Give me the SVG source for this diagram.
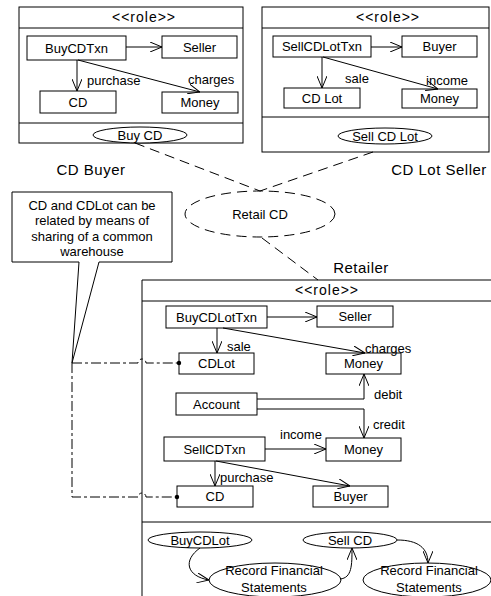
<svg xmlns="http://www.w3.org/2000/svg" width="491" height="596" viewBox="0 0 491 596">
<style>
.b{fill:#fff;stroke:#000;stroke-width:1}
.n{fill:none;stroke:#000;stroke-width:1}
.t{font-family:"Liberation Sans",Arial,sans-serif;font-size:13px;fill:#000;text-anchor:middle}
.l{font-family:"Liberation Sans",Arial,sans-serif;font-size:13px;fill:#000}
.r{font-family:"Liberation Sans",Arial,sans-serif;font-size:14px;fill:#000;text-anchor:middle;letter-spacing:1px}
.lab{font-family:"Liberation Sans",Arial,sans-serif;font-size:15px;fill:#000;text-anchor:middle;letter-spacing:0.5px}
.dash{fill:none;stroke:#000;stroke-width:1;stroke-dasharray:10,6}
.dd{fill:none;stroke:#000;stroke-width:1;stroke-dasharray:10,3,3,3}
.a{fill:none;stroke:#000;stroke-width:1;marker-end:url(#open)}
</style>
<defs>
<marker id="open" viewBox="0 0 12 10" refX="12" refY="5" markerWidth="12" markerHeight="10" markerUnits="userSpaceOnUse" orient="auto">
<path d="M0,0 L12,5 L0,10" fill="none" stroke="#000" stroke-width="1"/>
</marker>
</defs>
<rect width="491" height="596" fill="#fff"/>

<g id="cdbuyer">
<rect class="b" x="19" y="7" width="224" height="136"/>
<line class="n" x1="19" y1="28" x2="243" y2="28"/>
<line class="n" x1="19" y1="123" x2="243" y2="123"/>
<text class="r" x="144" y="22">&lt;&lt;role&gt;&gt;</text>
<g id="buyer-BuyCDTxn"><rect class="b" x="27" y="36" width="99" height="24"/><text class="t" x="76.5" y="52.5">BuyCDTxn</text></g>
<g id="buyer-Seller"><rect class="b" x="162" y="36" width="75" height="22"/><text class="t" x="199.5" y="51.5">Seller</text></g>
<g id="buyer-CD"><rect class="b" x="40" y="91" width="76" height="22"/><text class="t" x="78" y="106.5">CD</text></g>
<g id="buyer-Money"><rect class="b" x="162" y="92" width="76" height="21"/><text class="t" x="200" y="107">Money</text></g>
<g id="buyer-BuyCD"><ellipse class="b" cx="140" cy="135" rx="47" ry="8"/><text class="t" x="140" y="139.5">Buy CD</text></g>
<text class="lab" x="91" y="175">CD Buyer</text>
</g>

<g id="cdlotseller">
<rect class="b" x="262" y="7" width="227" height="145"/>
<line class="n" x1="262" y1="28" x2="489" y2="28"/>
<line class="n" x1="262" y1="117" x2="489" y2="117"/>
<text class="r" x="388" y="22">&lt;&lt;role&gt;&gt;</text>
<g id="seller-SellCDLotTxn"><rect class="b" x="273" y="36" width="98" height="21"/><text class="t" x="322" y="51">SellCDLotTxn</text></g>
<g id="seller-Buyer"><rect class="b" x="402" y="36" width="75" height="21"/><text class="t" x="439.5" y="51">Buyer</text></g>
<g id="seller-CDLot"><rect class="b" x="284" y="88" width="76" height="20"/><text class="t" x="322" y="102.5">CD Lot</text></g>
<g id="seller-Money"><rect class="b" x="402" y="89" width="75" height="19"/><text class="t" x="439.5" y="103">Money</text></g>
<g id="seller-SellCDLot"><ellipse class="b" cx="385" cy="136" rx="47" ry="8"/><text class="t" x="385" y="140.5">Sell CD Lot</text></g>
<text class="lab" x="439" y="175">CD Lot Seller</text>
</g>

<g id="retailcd">
<ellipse class="dash" cx="260" cy="214" rx="75" ry="23"/>
<text class="t" x="260" y="218.5">Retail CD</text>
</g>

<g id="note">
<path class="b" d="M12,192 H172 V262 H99 L72,363 L79,262 H12 Z"/>
<text class="t" x="92" y="209.5">CD and CDLot can be</text>
<text class="t" x="92" y="225">related by means of</text>
<text class="t" x="92" y="240.5">sharing of a common</text>
<text class="t" x="92" y="255.5">warehouse</text>
</g>

<g id="retailer">
<path class="n" d="M500,280 H142 V600"/>
<line class="n" x1="142" y1="301" x2="500" y2="301"/>
<line class="n" x1="142" y1="522" x2="500" y2="522"/>
<text class="r" x="327" y="295">&lt;&lt;role&gt;&gt;</text>
<text class="lab" x="361" y="273">Retailer</text>
<g id="ret-BuyCDLotTxn"><rect class="b" x="166" y="306" width="101" height="22"/><text class="t" x="216.5" y="321.5">BuyCDLotTxn</text></g>
<g id="ret-Seller"><rect class="b" x="317" y="306" width="76" height="21"/><text class="t" x="355" y="321">Seller</text></g>
<g id="ret-CDLot"><rect class="b" x="179" y="353" width="75" height="21"/><text class="t" x="216.5" y="368">CDLot</text></g>
<g id="ret-Money1"><rect class="b" x="326" y="353" width="75" height="21"/><text class="t" x="363.5" y="368">Money</text></g>
<g id="ret-Account"><rect class="b" x="176" y="393" width="81" height="22"/><text class="t" x="216.5" y="408.5">Account</text></g>
<g id="ret-SellCDTxn"><rect class="b" x="164" y="437" width="101" height="24"/><text class="t" x="214.5" y="453.5">SellCDTxn</text></g>
<g id="ret-Money2"><rect class="b" x="326" y="438" width="75" height="23"/><text class="t" x="363.5" y="454">Money</text></g>
<g id="ret-CD"><rect class="b" x="177" y="486" width="76" height="21"/><text class="t" x="215" y="501">CD</text></g>
<g id="ret-Buyer"><rect class="b" x="313" y="486" width="75" height="21"/><text class="t" x="350.5" y="501">Buyer</text></g>
<g id="ret-BuyCDLot"><ellipse class="b" cx="200" cy="540" rx="52" ry="8"/><text class="t" x="200" y="544.5">BuyCDLot</text></g>
<g id="ret-SellCD"><ellipse class="b" cx="350" cy="540" rx="47" ry="8"/><text class="t" x="350" y="544.5">Sell CD</text></g>
<g id="ret-RFS1"><ellipse class="b" cx="275" cy="580" rx="66" ry="17"/><text class="t" x="274" y="574.5">Record Financial</text><text class="t" x="274" y="591.5">Statements</text></g>
<g id="ret-RFS2"><ellipse class="b" cx="427" cy="580" rx="64" ry="17"/><text class="t" x="429" y="574.5">Record Financial</text><text class="t" x="429" y="591.5">Statements</text></g>
</g>

<g id="connectors">
<line class="a" x1="126" y1="47" x2="162" y2="47"/>
<line class="a" x1="77" y1="60" x2="77" y2="91"/>
<line class="a" x1="78" y1="60" x2="200" y2="92"/>
<text class="l" x="87" y="85">purchase</text>
<text class="l" x="188" y="84">charges</text>

<line class="a" x1="371" y1="47" x2="402" y2="47"/>
<line class="a" x1="322" y1="57" x2="322" y2="88"/>
<line class="a" x1="323" y1="57" x2="438" y2="89"/>
<text class="t" x="357" y="83">sale</text>
<text class="t" x="447" y="85">income</text>

<line class="dash" x1="135" y1="143" x2="260" y2="191"/>
<line class="dash" x1="373" y1="152" x2="260" y2="191"/>
<line class="dash" x1="262" y1="238" x2="318" y2="280"/>

<line class="a" x1="267" y1="317" x2="317" y2="317"/>
<line class="a" x1="217" y1="328" x2="217" y2="353"/>
<line class="a" x1="223" y1="328" x2="365" y2="353"/>
<text class="l" x="227" y="350.5">sale</text>
<text class="l" x="365" y="352.5">charges</text>
<path class="a" d="M257,399 H364 V374"/>
<text class="l" x="374" y="398.5">debit</text>
<path class="a" d="M257,409 H364 V438"/>
<text class="l" x="373" y="428.5">credit</text>
<line class="a" x1="265" y1="449" x2="326" y2="449"/>
<text class="l" x="280" y="438.5">income</text>
<line class="a" x1="215" y1="461" x2="215" y2="486"/>
<line class="a" x1="216" y1="461" x2="350" y2="486"/>
<text class="l" x="220" y="481.5">purchase</text>

<path class="dd" d="M72,363 H138 A4,4 0 0 1 146,363 H179"/>
<path class="dd" d="M72,363 V497 H138 A4,4 0 0 1 146,497 H177"/>
<circle cx="179" cy="363" r="2.2" fill="#000"/>
<circle cx="177" cy="497" r="2.2" fill="#000"/>

<path class="a" d="M200,548 C183,560 186,576 209,580"/>
<path class="a" d="M340,579 C352,578 352,565 352,548"/>
<path class="a" d="M397,540 C418,540 428,548 428,563"/>
</g>
</svg>
